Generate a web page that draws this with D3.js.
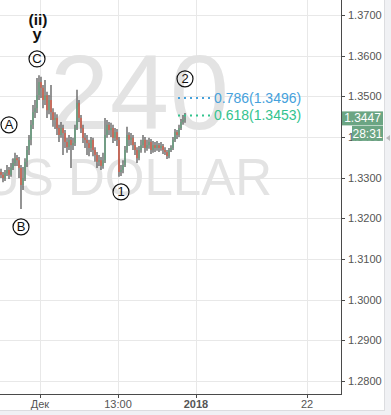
<!DOCTYPE html>
<html>
<head>
<meta charset="utf-8">
<script src="https://cdn.jsdelivr.net/npm/d3@7/dist/d3.min.js"></script>
<style>
  html, body { margin: 0; padding: 0; background: #fff; }
  svg { display: block; font-family: "Liberation Sans", Arial, sans-serif; }
</style>
</head>
<body>
<svg id="chart" width="391" height="415"></svg>
<script>
// 4h candles
const opens = [1.3314,1.3307,1.3299,1.3311,1.3319,1.3307,1.3324,1.3336,1.3348,1.3343,
  1.3324,1.3282,1.3299,1.3339,1.3368,1.3393,1.3430,1.3461,1.3471,1.3503,
  1.3535,1.3521,1.3491,1.3503,1.3466,1.3491,1.3461,1.3442,1.3447,1.3422,
  1.3405,1.3422,1.3410,1.3388,1.3375,1.3393,1.3380,1.3385,1.3422,1.3484,
  1.3447,1.3422,1.3398,1.3393,1.3385,1.3373,1.3393,1.3368,1.3356,1.3339,
  1.3343,1.3329,1.3343,1.3405,1.3430,1.3417,1.3422,1.3398,1.3412,1.3393,
  1.3314,1.3319,1.3331,1.3368,1.3405,1.3393,1.3398,1.3380,1.3368,1.3348,
  1.3368,1.3380,1.3393,1.3373,1.3380,1.3388,1.3368,1.3380,1.3373,1.3380,
  1.3373,1.3378,1.3368,1.3363,1.3353,1.3368,1.3373,1.3393,1.3412,1.3405,
  1.3422,1.3437,1.3442];
const closes = [1.3307,1.3299,1.3311,1.3319,1.3307,1.3324,1.3336,1.3348,1.3343,1.3324,
  1.3282,1.3299,1.3339,1.3368,1.3393,1.3430,1.3461,1.3471,1.3503,1.3535,
  1.3521,1.3491,1.3503,1.3466,1.3491,1.3461,1.3442,1.3447,1.3422,1.3405,
  1.3422,1.3410,1.3388,1.3375,1.3393,1.3380,1.3385,1.3422,1.3484,1.3447,
  1.3422,1.3398,1.3393,1.3385,1.3373,1.3393,1.3368,1.3356,1.3339,1.3343,
  1.3329,1.3343,1.3405,1.3430,1.3417,1.3422,1.3398,1.3412,1.3393,1.3314,
  1.3319,1.3331,1.3368,1.3405,1.3393,1.3398,1.3380,1.3368,1.3348,1.3368,
  1.3380,1.3393,1.3373,1.3380,1.3388,1.3368,1.3380,1.3373,1.3380,1.3373,
  1.3378,1.3368,1.3363,1.3353,1.3368,1.3373,1.3393,1.3412,1.3405,1.3422,
  1.3437,1.3442,1.3447];
const highs = [1.3322,1.3314,1.3319,1.3331,1.3326,1.3336,1.3348,1.3361,1.3356,1.3351,
  1.3331,1.3326,1.3348,1.3378,1.3405,1.3442,1.3479,1.3491,1.3545,1.3552,
  1.3548,1.3528,1.3540,1.3511,1.3503,1.3528,1.3471,1.3461,1.3456,1.3430,
  1.3437,1.3430,1.3417,1.3398,1.3405,1.3400,1.3398,1.3430,1.3516,1.3491,
  1.3454,1.3430,1.3410,1.3405,1.3393,1.3400,1.3398,1.3375,1.3363,1.3356,
  1.3351,1.3361,1.3447,1.3442,1.3437,1.3435,1.3430,1.3422,1.3420,1.3400,
  1.3331,1.3343,1.3378,1.3425,1.3412,1.3410,1.3405,1.3388,1.3375,1.3378,
  1.3393,1.3405,1.3400,1.3393,1.3398,1.3395,1.3390,1.3388,1.3390,1.3385,
  1.3388,1.3383,1.3375,1.3368,1.3373,1.3380,1.3400,1.3420,1.3417,1.3430,
  1.3444,1.3454,1.3459];
const lows = [1.3299,1.3289,1.3292,1.3304,1.3297,1.3302,1.3319,1.3329,1.3329,1.3299,
  1.3223,1.3270,1.3292,1.3326,1.3356,1.3380,1.3420,1.3447,1.3459,1.3491,
  1.3496,1.3471,1.3479,1.3447,1.3456,1.3442,1.3425,1.3420,1.3405,1.3388,
  1.3398,1.3356,1.3373,1.3361,1.3368,1.3324,1.3368,1.3378,1.3417,1.3437,
  1.3410,1.3385,1.3373,1.3356,1.3353,1.3363,1.3353,1.3339,1.3324,1.3329,
  1.3319,1.3322,1.3336,1.3398,1.3405,1.3400,1.3385,1.3390,1.3378,1.3302,
  1.3304,1.3311,1.3326,1.3361,1.3378,1.3380,1.3368,1.3356,1.3336,1.3343,
  1.3361,1.3373,1.3361,1.3366,1.3371,1.3358,1.3361,1.3363,1.3366,1.3363,
  1.3366,1.3358,1.3356,1.3346,1.3348,1.3363,1.3368,1.3388,1.3395,1.3400,
  1.3417,1.3430,1.3435];

// axes
const priceTicks = [1.37, 1.36, 1.35, 1.34, 1.33, 1.32, 1.31, 1.30, 1.29, 1.28];
const timeTickLabels = ["Дек", "13:00", "2018", "22"];
const timeTickIndex = [19.5, 58.5, 97.5, 153];

// wave labels (circled) and fib levels
const waveLabels = ["A", "B", "C", "1", "2"];
const waveIndex = [4, 10, 18, 60, 92];
const wavePrice = [1.3430, 1.3179, 1.3592, 1.3265, 1.3543];
const fibNames = ["0.786", "0.618"];
const fibPrices = [1.3496, 1.3453];
const lastPrice = 1.3447;
const countdown = "28:31";

const svg = d3.select("#chart");
const W = 391, H = 415;
const plotR = 341, plotB = 394;

const x = d3.scaleLinear().domain([-0.5, 170]).range([0, plotR]);
const y = d3.scaleLinear().domain([1.27681, 1.37369]).range([plotB, 0]);

// side strips
svg.append("rect").attr("x", 385).attr("y", 0).attr("width", 6).attr("height", H).attr("fill", "#f0f1f4");
svg.append("rect").attr("x", 0).attr("y", 411).attr("width", W).attr("height", 4).attr("fill", "#f0f1f4");
svg.append("line").attr("x1", 384.5).attr("x2", 384.5).attr("y1", 0).attr("y2", 411).attr("stroke", "#dcdde0");
svg.append("line").attr("x1", 0).attr("x2", 385).attr("y1", 410.5).attr("y2", 410.5).attr("stroke", "#dcdde0");
svg.append("path").attr("d", "M386,138 L390,135 L390,141 Z").attr("fill", "#b8b8b8");

// grid
const grid = svg.append("g");
grid.selectAll("line.h").data(priceTicks).enter().append("line")
  .attr("x1", 0).attr("x2", plotR)
  .attr("y1", d => Math.round(y(d)) + 0.5).attr("y2", d => Math.round(y(d)) + 0.5)
  .attr("stroke", "#e8e8e8");
grid.selectAll("line.v").data(timeTickIndex).enter().append("line")
  .attr("y1", 0).attr("y2", plotB)
  .attr("x1", d => Math.round(x(d)) + 0.5).attr("x2", d => Math.round(x(d)) + 0.5)
  .attr("stroke", "#e8e8e8");

// watermark
svg.append("text").attr("x", 50).attr("y", 129)
  .attr("font-size", 106).attr("fill", "#e3e3e3").attr("letter-spacing", 1)
  .text("240");
svg.append("text").attr("x", 272).attr("y", 195).attr("text-anchor", "end")
  .attr("font-size", 51).attr("fill", "#e3e3e3")
  .text("US DOLLAR");

// candles
const candles = d3.range(closes.length).map(i => ({i, o: opens[i], c: closes[i], h: highs[i], l: lows[i]}));
const cg = svg.append("g");
cg.selectAll("line").data(candles).enter().append("line")
  .attr("x1", d => x(d.i)).attr("x2", d => x(d.i))
  .attr("y1", d => y(d.h)).attr("y2", d => y(d.l))
  .attr("stroke", "#666").attr("stroke-width", 1.4);
cg.selectAll("rect").data(candles).enter().append("rect")
  .attr("x", d => x(d.i) - 0.6).attr("width", 1.2)
  .attr("y", d => y(Math.max(d.o, d.c)))
  .attr("height", d => Math.max(1, Math.abs(y(d.o) - y(d.c))))
  .attr("fill", d => d.c >= d.o ? "#5fa57c" : "#e8553d");

// wave labels
const wg = svg.append("g");
waveLabels.forEach((t, k) => {
  const cx = x(waveIndex[k]), cy = y(wavePrice[k]);
  wg.append("circle").attr("cx", cx).attr("cy", cy).attr("r", 8)
    .attr("fill", "none").attr("stroke", "#111").attr("stroke-width", 1.2);
  wg.append("text").attr("x", cx).attr("y", cy + 4.5).attr("text-anchor", "middle")
    .attr("font-size", 13).attr("fill", "#111").text(t);
});
wg.append("text").attr("x", x(18.5)).attr("y", 25).attr("text-anchor", "middle")
  .attr("font-size", 15.5).attr("font-weight", "bold").attr("fill", "#111").text("(ii)");
wg.append("text").attr("x", x(18)).attr("y", 40).attr("text-anchor", "middle")
  .attr("font-size", 16.5).attr("font-weight", "bold").attr("fill", "#111").text("y");

// fib levels
const fibColors = ["#45a1dc", "#33c38e"];
fibPrices.forEach((p, k) => {
  svg.append("line").attr("x1", x(88.5)).attr("x2", x(104.5))
    .attr("y1", y(p)).attr("y2", y(p))
    .attr("stroke", fibColors[k]).attr("stroke-width", 2).attr("stroke-dasharray", "2,4");
  svg.append("text").attr("x", x(106.5)).attr("y", y(p) + 5)
    .attr("font-size", 14).attr("fill", fibColors[k])
    .text(fibNames[k] + "(" + p.toFixed(4) + ")");
});

// right axis
const ra = svg.append("g");
ra.append("line").attr("x1", plotR + 0.5).attr("x2", plotR + 0.5).attr("y1", 0).attr("y2", plotB + 0.5)
  .attr("stroke", "#4a4a4a");
ra.selectAll("line.t").data(priceTicks).enter().append("line")
  .attr("x1", plotR).attr("x2", plotR + 4)
  .attr("y1", d => Math.round(y(d)) + 0.5).attr("y2", d => Math.round(y(d)) + 0.5)
  .attr("stroke", "#4a4a4a");
ra.selectAll("text").data(priceTicks).enter().append("text")
  .attr("x", plotR + 7).attr("y", d => y(d) + 4)
  .attr("font-size", 11).attr("fill", "#555")
  .text(d => d3.format(".4f")(d));

// bottom axis
const ba = svg.append("g");
ba.append("line").attr("x1", 0).attr("x2", plotR + 1).attr("y1", plotB + 0.5).attr("y2", plotB + 0.5)
  .attr("stroke", "#4a4a4a");
ba.selectAll("line.t").data(timeTickIndex).enter().append("line")
  .attr("x1", d => Math.round(x(d)) + 0.5).attr("x2", d => Math.round(x(d)) + 0.5)
  .attr("y1", plotB).attr("y2", plotB + 4)
  .attr("stroke", "#4a4a4a");
ba.selectAll("text").data(timeTickIndex).enter().append("text")
  .attr("x", d => x(d)).attr("y", 408).attr("text-anchor", "middle")
  .attr("font-size", 11).attr("fill", "#555")
  .attr("font-weight", (d, i) => timeTickLabels[i] === "2018" ? "bold" : "normal")
  .text((d, i) => timeTickLabels[i]);

// last price + countdown badges
const ly = y(lastPrice);
svg.append("rect").attr("x", 342).attr("y", ly - 6.5).attr("width", 41).attr("height", 14).attr("fill", "#6ba583");
svg.append("text").attr("x", 362.5).attr("y", ly + 4.5).attr("text-anchor", "middle")
  .attr("font-size", 12).attr("fill", "#fff").text(lastPrice.toFixed(4));
svg.append("rect").attr("x", 352).attr("y", ly + 8).attr("width", 31).attr("height", 15).attr("fill", "#6ba583");
svg.append("text").attr("x", 367.5).attr("y", ly + 20).attr("text-anchor", "middle")
  .attr("font-size", 12).attr("fill", "#fff").text(countdown);
</script>
</body>
</html>
